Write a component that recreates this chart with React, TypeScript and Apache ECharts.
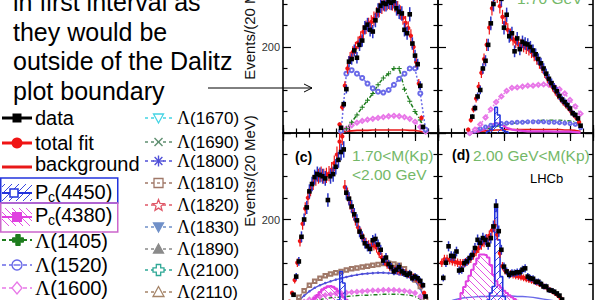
import React, { useEffect, useRef } from "react";
import * as echarts from "echarts";

// ---------- binning / axes ----------
const BIN = 0.02; // 20 MeV bins
const STEP = 0.04; // sampling step for component curves
const X_MIN = 4.0;
const X_MAX = 5.174;
const Y_MAX = 400;

// ---------- top-left panel ----------
const tlDataStart = 4.44;
const tlData = [12, 67, 102, 166, 172, 192, 175, 205, 215, 245, 252, 240, 236, 262, 285, 296, 302, 300, 306, 303, 307, 290, 282, 278, 240, 232, 276, 208, 180, 160, 110, 14];
const tlFitStart = 4.44;
const tlFit = [20, 60, 110, 150, 175, 188, 198, 210, 222, 235, 246, 252, 258, 266, 276, 286, 294, 300, 303, 304, 302, 298, 290, 280, 268, 256, 244, 226, 200, 165, 115, 35];
const tlCompStart = 4.44;
const tlL1520 = [5, 138, 146, 138, 128, 115, 104, 96, 94, 100, 112, 126, 138, 150, 150, 92, 8];
const tlL1405 = [2, 10, 25, 42, 60, 76, 92, 112, 128, 138, 150, 150, 102, 74, 50, 30, 6];
const tlL1600 = [2, 10, 18, 24, 28, 31, 33, 35, 37, 39, 40, 39, 37, 33, 26, 14, 3];
const tlBkg = [2, 4, 5, 6, 6, 6, 7, 7, 7, 7, 7, 7, 7, 6, 6, 4, 1];

// ---------- top-right panel ----------
const trDataStart = 4.26;
const trData = [38, 58, 85, 100, 150, 168, 205, 255, 300, 335, 345, 312, 245, 275, 225, 232, 190, 220, 195, 212, 208, 206, 200, 192, 183, 172, 162, 150, 138, 126, 116, 106, 97, 86, 78, 72, 65, 57, 46, 42, 34, 17];
const trFitStart = 4.24;
const trFit = [8, 30, 55, 80, 108, 140, 172, 205, 245, 290, 325, 320, 295, 270, 255, 240, 228, 218, 212, 207, 205, 202, 198, 194, 188, 180, 172, 162, 152, 140, 128, 117, 107, 97, 88, 80, 72, 65, 58, 50, 42, 35, 25];
const trCompStart = 4.24;
const trL1600 = [0, 8, 20, 36, 55, 72, 85, 98, 105, 106, 108, 110, 110, 112, 113, 112, 108, 102, 92, 77, 62, 45];
const trL1520 = [0, 5, 10, 14, 18, 20, 22, 23, 24, 25, 25, 26, 26, 26, 26, 25, 25, 24, 23, 22, 20, 12];
const trL1405 = [0, 3, 6, 9, 12, 15, 18, 20, 22, 24, 25, 27, 28, 29, 30, 30, 30, 30, 29, 28, 26, 15];
const trBkg = [0, 2, 4, 5, 6, 7, 7, 8, 8, 8, 8, 8, 8, 8, 8, 8, 8, 8, 7, 7, 6, 4];
const trPc4380 = [0, 2, 5, 10, 18, 23, 20, 12, 8, 6, 5, 4, 4, 4, 4, 4, 3, 3, 3, 3, 2, 1];
const trPc4450Start = 4.38;
const trPc4450 = [4, 8, 15, 60, 42, 12, 5, 3];

// ---------- (c) bottom-left panel ----------
const cDataStart = 4.08;
const cData = [26, 68, 103, 160, 200, 228, 265, 282, 298, 305, 303, 300, 295, 245, 300, 305, 322, 338, 356, 362, 262, 248, 230, 212, 198, 172, 160, 145, 138, 132, 152, 155, 142, 130, 105, 112, 97, 90, 80, 84, 90, 80, 76, 72, 75, 64, 68, 64, 58, 48, 22];
const cFitStart = 4.06;
const cFit = [10, 30, 60, 100, 150, 190, 225, 250, 270, 285, 295, 300, 305, 300, 302, 306, 315, 330, 350, 380, 392, 275, 258, 238, 218, 200, 182, 168, 155, 146, 140, 140, 140, 135, 122, 112, 104, 96, 90, 86, 84, 82, 80, 78, 76, 73, 70, 67, 63, 58, 48, 30];
const cCompStart = 4.08;
const cL1810 = [2, 20, 35, 48, 57, 64, 70, 74, 77, 80, 83, 86, 88, 90, 92, 94, 96, 98, 99, 97, 94, 86, 72, 60, 45, 15];
const cL1800 = [1, 12, 24, 34, 42, 48, 53, 57, 61, 64, 67, 70, 72, 74, 75, 76, 77, 77, 76, 75, 73, 70, 66, 58, 40, 12];
const cL1600 = [0, 5, 10, 15, 19, 22, 25, 27, 29, 30, 31, 32, 33, 34, 35, 36, 36, 37, 37, 37, 36, 35, 33, 30, 22, 6];
const cL1405 = [0, 3, 7, 10, 13, 15, 17, 19, 20, 21, 22, 23, 24, 25, 25, 26, 26, 27, 27, 27, 27, 26, 25, 22, 16, 4];
const cPc4380Start = 4.18;
const cPc4380 = [4, 7, 12, 18, 25, 32, 38, 42, 45, 46, 44, 40, 34, 27, 20, 14, 9, 6];
const cPc4450Start = 4.38;
const cPc4450 = [5, 8, 14, 80, 53, 10, 5];

// ---------- (d) bottom-right panel ----------
const dDataStart = 4.04;
const dData = [65, 100, 138, 116, 115, 126, 82, 84, 99, 103, 111, 118, 134, 153, 146, 157, 153, 142, 157, 184, 232, 173, 130, 91, 80, 72, 76, 76, 78, 78, 84, 87, 68, 64, 63, 56, 56, 51, 45, 45, 37, 36, 33, 29, 24, 15];
const dFitStart = 4.04;
const dFit = [100, 108, 108, 106, 104, 102, 100, 99, 99, 101, 105, 110, 118, 126, 134, 142, 148, 154, 162, 175, 186, 165, 122, 92, 82, 77, 74, 72, 70, 69, 67, 65, 63, 61, 59, 57, 54, 51, 48, 45, 41, 37, 33, 29, 24, 18];
const dPc4380Start = 4.16;
const dPc4380 = [14, 30, 44, 57, 70, 84, 97, 110, 119, 119, 118, 112, 95, 72, 58, 48, 42, 35, 30, 25, 20, 16, 12, 8, 5];
const dPc4450Start = 4.38;
const dPc4450 = [14, 30, 45, 228, 153, 68, 22, 10];
const dCompStart = 4.04;
const dLband = [5, 10, 14, 17, 19, 20, 21, 22, 22, 23, 23, 23, 23, 23, 22, 22, 21, 20, 18, 16, 14, 12, 10];

// ---------- text ----------
const noteLines = ["in first interval as", "they would be", "outside of the Dalitz", "plot boundary"];
const yTitle = "Events/(20 MeV)";
const legendLeft = ["data", "total fit", "background", "P|c|(4450)", "P|c|(4380)", "Λ(1405)", "Λ(1520)", "Λ(1600)"];
const legendRight = ["Λ(1670)", "Λ(1690)", "Λ(1800)", "Λ(1810)", "Λ(1820)", "Λ(1830)", "Λ(1890)", "Λ(2100)", "Λ(2110)"];

// ---------- colours ----------
const C_ERR = "#2a34c6";
const C_FIT = "#f01414";
const C_BKG = "#e81818";
const C_PC4450 = "#2233dd";
const C_PC4380 = "#e040e0";
const C_L1405 = "#1e7d1e";
const C_L1520 = "#6a6ae8";
const C_L1600 = "#e878e8";
const C_L1670 = "#44d4e4";
const C_L1690 = "#5f8f70";
const C_L1800 = "#5050d8";
const C_L1810 = "#a07868";
const C_L1820 = "#e05868";
const C_L1830 = "#7090c8";
const C_L1890 = "#8a8a8a";
const C_L2100 = "#2fa896";
const C_L2110 = "#a58468";
const C_GREEN = "#74b868";
const FONT = "Liberation Sans";

const PLUS = "path://M4 0h2v4h4v2h-4v4h-2v-4h-4v-2h4z";

function pairs(start: number, step: number, vals: number[]) {
  return vals.map((v, i) => [Math.round((start + i * step) * 1000) / 1000, v]);
}

function hatch(color: string, dir: number) {
  const s = 7;
  const c = document.createElement("canvas");
  c.width = s;
  c.height = s;
  const g = c.getContext("2d")!;
  g.strokeStyle = color;
  g.lineWidth = 0.9;
  g.beginPath();
  if (dir > 0) {
    g.moveTo(0, s); g.lineTo(s, 0);
    g.moveTo(-s / 2, s / 2); g.lineTo(s / 2, -s / 2);
    g.moveTo(s / 2, s * 1.5); g.lineTo(s * 1.5, s / 2);
  } else {
    g.moveTo(0, 0); g.lineTo(s, s);
    g.moveTo(-s / 2, s / 2); g.lineTo(s / 2, s * 1.5);
    g.moveTo(s / 2, -s / 2); g.lineTo(s * 1.5, s / 2);
  }
  g.stroke();
  return { image: c, repeat: "repeat" };
}

function dataSeries(gi: number, start: number, vals: number[]) {
  return {
    type: "custom",
    xAxisIndex: gi * 2,
    yAxisIndex: gi * 2,
    z: 6,
    clip: true,
    silent: true,
    data: pairs(start, BIN, vals),
    renderItem: (_p: any, api: any) => {
      const x = api.value(0);
      const y = api.value(1);
      const e = Math.sqrt(y);
      const c = api.coord([x, y]);
      const hi = api.coord([x, y + e]);
      const lo = api.coord([x, Math.max(0, y - e)]);
      return {
        type: "group",
        children: [
          { type: "line", shape: { x1: c[0], y1: hi[1], x2: c[0], y2: lo[1] }, style: { stroke: C_ERR, lineWidth: 1.5 } },
          { type: "rect", shape: { x: c[0] - 2.3, y: c[1] - 2.3, width: 4.6, height: 4.6 }, style: { fill: "#000" } },
        ],
      };
    },
  };
}

function fitSeries(gi: number, start: number, vals: number[]) {
  return {
    type: "custom",
    xAxisIndex: gi * 2,
    yAxisIndex: gi * 2,
    z: 5,
    clip: true,
    silent: true,
    data: pairs(start, BIN, vals),
    renderItem: (_p: any, api: any) => {
      const x = api.value(0);
      const y = api.value(1);
      const e = Math.sqrt(y);
      const c = api.coord([x, y]);
      const hi = api.coord([x, y + e]);
      const lo = api.coord([x, Math.max(0, y - e)]);
      const cx = c[0] - 1.5;
      return {
        type: "group",
        children: [
          { type: "line", shape: { x1: cx, y1: hi[1], x2: cx, y2: lo[1] }, style: { stroke: C_FIT, lineWidth: 1.2 } },
          { type: "circle", shape: { cx, cy: c[1], r: 2.2 }, style: { fill: C_FIT } },
        ],
      };
    },
  };
}

function compSeries(gi: number, start: number, vals: number[], color: string, dash: any, symbol: string, width = 1.4, size = 3.5) {
  return {
    type: "line",
    xAxisIndex: gi * 2,
    yAxisIndex: gi * 2,
    z: 3,
    silent: true,
    clip: true,
    data: pairs(start, STEP, vals),
    symbol,
    symbolSize: size,
    showSymbol: symbol !== "none",
    lineStyle: { color, width, type: dash },
    itemStyle: { color },
  };
}

function histSeries(gi: number, start: number, vals: number[], color: string, fill: any, width = 1.5) {
  const d = [[Math.round((start - BIN) * 1000) / 1000, 0], ...pairs(start, BIN, vals), [Math.round((start + vals.length * BIN) * 1000) / 1000, 0]];
  const s: any = {
    type: "line",
    step: "middle",
    xAxisIndex: gi * 2,
    yAxisIndex: gi * 2,
    z: 4,
    silent: true,
    clip: true,
    data: d,
    symbol: "none",
    lineStyle: { color, width },
  };
  if (fill) s.areaStyle = { color: fill, opacity: 1 };
  return s;
}

function xAxes(gi: number, pos: string) {
  const tickStyle = { color: "#000", width: 1.2 };
  return [
    {
      type: "value", gridIndex: gi, position: pos, min: X_MIN, max: X_MAX, interval: 0.5,
      axisLine: { show: true, onZero: false, lineStyle: { color: "#000", width: 1.6 } },
      axisTick: { show: true, inside: true, length: 8, lineStyle: tickStyle },
      axisLabel: { show: false }, splitLine: { show: false },
    },
    {
      type: "value", gridIndex: gi, position: pos, min: X_MIN, max: X_MAX, interval: 0.1,
      axisLine: { show: false, onZero: false },
      axisTick: { show: true, inside: true, length: 4.5, lineStyle: tickStyle },
      axisLabel: { show: false }, splitLine: { show: false },
    },
  ];
}

function yAxes(gi: number, labels: boolean) {
  const tickStyle = { color: "#000", width: 1.2 };
  const base = {
    type: "value", gridIndex: gi, min: 0, max: Y_MAX, interval: 200,
    axisLine: { show: true, onZero: false, lineStyle: { color: "#000", width: 1.6 } },
    axisTick: { show: true, inside: true, length: 8, lineStyle: tickStyle },
    minorTick: { show: true, splitNumber: 4, length: 4.5, lineStyle: tickStyle },
    splitLine: { show: false }, minorSplitLine: { show: false },
  };
  return [
    {
      ...base, position: "left",
      axisLabel: { show: labels, formatter: (v: number) => (v === 200 ? "200" : ""), fontSize: 11, color: "#333", margin: 3, fontFamily: FONT },
    },
    { ...base, position: "right", axisLabel: { show: false } },
  ];
}

function txt(x: number, y: number, text: string, fontSize: number, extra: any = {}) {
  return {
    type: "text", x, y, silent: true, z: 10,
    style: {
      text, fontSize, fontFamily: FONT, fill: "#000",
      textAlign: "left", align: "left", textVerticalAlign: "middle", verticalAlign: "middle",
      ...extra,
    },
  };
}

function ln(x1: number, y1: number, x2: number, y2: number, stroke: string, lineWidth: number, dash?: number[]) {
  return { type: "line", silent: true, z: 10, shape: { x1, y1, x2, y2 }, style: { stroke, lineWidth, lineDash: dash } };
}

function poly(points: number[][], stroke: string, fill: string, lw = 1.3) {
  return { type: "polygon", silent: true, z: 11, shape: { points }, style: { stroke, fill, lineWidth: lw } };
}

function starPts(cx: number, cy: number, R: number, r: number) {
  const pts: number[][] = [];
  for (let i = 0; i < 10; i++) {
    const a = -Math.PI / 2 + (i * Math.PI) / 5;
    const rr = i % 2 ? r : R;
    pts.push([cx + rr * Math.cos(a), cy + rr * Math.sin(a)]);
  }
  return pts;
}

function crossPts(cx: number, cy: number, a: number, b: number) {
  return [[cx - b, cy - a], [cx + b, cy - a], [cx + b, cy - b], [cx + a, cy - b], [cx + a, cy + b], [cx + b, cy + b], [cx + b, cy + a], [cx - b, cy + a], [cx - b, cy + b], [cx - a, cy + b], [cx - a, cy - b], [cx - b, cy - b]];
}

export default function App() {
  const ref = useRef<HTMLDivElement>(null);
  useEffect(() => {
    const el = ref.current!;
    const chart = echarts.init(el, undefined, { renderer: "svg" });
    const blueHatch = hatch(C_PC4450, 1);
    const magHatch = hatch(C_PC4380, -1);

    const series: any[] = [
      // top-left
      compSeries(0, tlCompStart, tlBkg, C_BKG, "solid", "none", 1.6),
      compSeries(0, tlCompStart, tlL1600, C_L1600, [2, 2], "emptyDiamond", 1.4, 4),
      compSeries(0, tlCompStart, tlL1405, C_L1405, [4, 2, 1, 2], PLUS, 1.5, 5),
      compSeries(0, tlCompStart, tlL1520, C_L1520, [2, 2], "emptyCircle", 1.5, 4),
      fitSeries(0, tlFitStart, tlFit),
      dataSeries(0, tlDataStart, tlData),
      // top-right
      compSeries(1, trCompStart, trBkg, C_BKG, "solid", "none", 1.6),
      compSeries(1, trCompStart, trL1405, C_L1405, [4, 2, 1, 2], "none", 1.4),
      compSeries(1, trCompStart, trL1520, C_L1520, [2, 2], "emptyCircle", 1.4, 3),
      compSeries(1, trCompStart, trPc4380, C_PC4380, "solid", "none", 2.2),
      histSeries(1, trPc4450Start, trPc4450, C_PC4450, blueHatch, 1.5),
      compSeries(1, trCompStart, trL1600, C_L1600, [2, 2], "emptyDiamond", 1.4, 4),
      fitSeries(1, trFitStart, trFit),
      dataSeries(1, trDataStart, trData),
      // (c)
      compSeries(2, cCompStart, cL1405, C_L1405, [4, 2, 1, 2], "none", 1.4),
      compSeries(2, cCompStart, cL1600, C_L1600, [2, 2], "emptyDiamond", 1.4, 3.5),
      histSeries(2, cPc4380Start, cPc4380, C_PC4380, magHatch, 2.4),
      histSeries(2, cPc4450Start, cPc4450, C_PC4450, blueHatch, 1.5),
      compSeries(2, cCompStart, cL1800, C_L1800, "solid", "circle", 1.4, 2.5),
      compSeries(2, cCompStart, cL1810, C_L1810, [2, 2], "emptyRect", 1.4, 3.5),
      fitSeries(2, cFitStart, cFit),
      dataSeries(2, cDataStart, cData),
      // (d)
      compSeries(3, dCompStart, dLband, C_L1520, "solid", "none", 1.4),
      histSeries(3, dPc4380Start, dPc4380, C_PC4380, magHatch, 2),
      histSeries(3, dPc4450Start, dPc4450, C_PC4450, blueHatch, 1.6),
      fitSeries(3, dFitStart, dFit),
      dataSeries(3, dDataStart, dData),
    ];

    // ---------- legend and notes ----------
    const g: any[] = [];
    noteLines.forEach((t, i) => g.push(txt(13, 2.3 + i * 29.5, t, 25)));

    // y titles
    [24, 171].forEach((y) =>
      g.push({
        type: "text", x: 249, y, rotation: Math.PI / 2, silent: true, z: 10,
        style: { text: yTitle, fontSize: 15, fontFamily: FONT, fill: "#111", textAlign: "center", align: "center", textVerticalAlign: "middle", verticalAlign: "middle" },
      })
    );

    // arrow
    g.push(ln(208, 88, 312, 88, "#000", 1));
    g.push({ type: "polyline", silent: true, z: 10, shape: { points: [[304, 84], [312, 88], [304, 92]] }, style: { stroke: "#000", lineWidth: 1, fill: null } });

    // left legend column
    const LX1 = 2, LX2 = 32, LC = 17, LT = 35;
    const lY = [118, 143, 167, 193, 217, 240, 265, 288];
    const lTY = [118, 143, 164, 192, 215, 241, 265, 288];
    g.push(ln(LX1, lY[0], LX2, lY[0], "#000", 3));
    g.push({ type: "rect", silent: true, z: 11, shape: { x: LC - 4.5, y: lY[0] - 4.5, width: 9, height: 9 }, style: { fill: "#000" } });
    g.push(ln(LX1, lY[1], LX2, lY[1], C_FIT, 3));
    g.push({ type: "circle", silent: true, z: 11, shape: { cx: LC, cy: lY[1], r: 5.5 }, style: { fill: C_FIT } });
    g.push(ln(LX1, lY[2], LX2, lY[2], C_BKG, 3));
    g.push({ type: "rect", silent: true, z: 9, shape: { x: 2, y: 184, width: 30, height: 17 }, style: { fill: blueHatch } });
    g.push(ln(LX1, lY[3], LX2, lY[3], C_PC4450, 2));
    g.push({ type: "rect", silent: true, z: 11, shape: { x: 10, y: lY[3] - 4, width: 8, height: 8 }, style: { stroke: C_PC4450, lineWidth: 1.5, fill: "#fff" } });
    g.push({ type: "rect", silent: true, z: 12, shape: { x: 0.75, y: 178, width: 117, height: 25 }, style: { stroke: C_PC4450, lineWidth: 1.5, fill: null } });
    g.push({ type: "rect", silent: true, z: 9, shape: { x: 2, y: 208, width: 30, height: 18 }, style: { fill: magHatch } });
    g.push(ln(LX1, lY[4], LX2, lY[4], C_PC4380, 2));
    g.push({ type: "rect", silent: true, z: 11, shape: { x: LC - 5, y: lY[4] - 5, width: 10, height: 10 }, style: { fill: C_PC4380 } });
    g.push({ type: "rect", silent: true, z: 12, shape: { x: 0.75, y: 203, width: 117, height: 29 }, style: { stroke: "#cc66cc", lineWidth: 1.5, fill: null } });
    g.push(ln(LX1, lY[5], LX2, lY[5], C_L1405, 2, [4, 3]));
    g.push(poly(crossPts(18, lY[5], 5.5, 2.2), C_L1405, C_L1405, 1));
    g.push(ln(LX1, lY[6], LX2, lY[6], C_L1520, 1.6, [4, 3]));
    g.push({ type: "circle", silent: true, z: 11, shape: { cx: LC, cy: lY[6], r: 5 }, style: { stroke: C_L1520, lineWidth: 1.4, fill: "#fff" } });
    g.push({ ...ln(LC - 3.5, lY[6], LC + 3.5, lY[6], C_L1520, 1.4), z: 12 });
    g.push(ln(LX1, lY[7], LX2, lY[7], C_L1600, 1.6, [4, 3]));
    g.push(poly([[LC, lY[7] - 6], [LC + 5, lY[7]], [LC, lY[7] + 6], [LC - 5, lY[7]]], C_L1600, "#fff"));

    legendLeft.forEach((t, i) => {
      if (t.indexOf("|") >= 0) {
        const [p, s, r] = t.split("|");
        g.push(txt(LT, lTY[i], p, 20));
        g.push(txt(LT + 13, lTY[i] + 5, s, 14));
        g.push(txt(LT + 19.5, lTY[i], r, 20));
      } else if (t.startsWith("Λ")) {
        g.push(txt(LT, lTY[i], "{l|Λ}" + t.slice(1), 20, { rich: { l: { fontFamily: "Liberation Serif", fontSize: 21 } } }));
      } else {
        g.push(txt(LT, lTY[i], t, 20));
      }
    });

    // right legend column
    const RX1 = 145, RX2 = 172, RC = 158.5, RT = 177;
    const rY = [118, 142, 161, 183, 205, 227, 249, 270, 292];
    const rColors = [C_L1670, C_L1690, C_L1800, C_L1810, C_L1820, C_L1830, C_L1890, C_L2100, C_L2110];
    rY.forEach((y, i) => g.push(ln(RX1, y, RX2, y, rColors[i], 1.6, [3, 3])));
    g.push(poly([[RC - 5, rY[0] - 4], [RC + 5, rY[0] - 4], [RC, rY[0] + 5]], C_L1670, "#fff"));
    g.push({ ...ln(RC - 4, rY[1] - 4, RC + 4, rY[1] + 4, C_L1690, 1.4), z: 11 });
    g.push({ ...ln(RC - 4, rY[1] + 4, RC + 4, rY[1] - 4, C_L1690, 1.4), z: 11 });
    [0, 45, 90, 135].forEach((deg) => {
      const a = (deg * Math.PI) / 180;
      g.push({ ...ln(RC - 5.5 * Math.cos(a), rY[2] - 5.5 * Math.sin(a), RC + 5.5 * Math.cos(a), rY[2] + 5.5 * Math.sin(a), C_L1800, 1.4), z: 11 });
    });
    g.push({ type: "rect", silent: true, z: 11, shape: { x: RC - 4.5, y: rY[3] - 4.5, width: 9, height: 9 }, style: { stroke: C_L1810, lineWidth: 1.3, fill: "#fff" } });
    g.push({ ...ln(RC - 1.5, rY[3], RC + 1.5, rY[3], C_L1810, 1.3), z: 12 });
    g.push(poly(starPts(RC, rY[4] + 0.5, 6, 2.6), C_L1820, "#fff"));
    g.push(poly([[RC - 5, rY[5] - 4], [RC + 5, rY[5] - 4], [RC, rY[5] + 5]], C_L1830, C_L1830));
    g.push(poly([[RC - 5, rY[6] + 4], [RC + 5, rY[6] + 4], [RC, rY[6] - 5]], C_L1890, C_L1890));
    g.push(poly(crossPts(RC, rY[7], 5.5, 2.2), C_L2100, "#fff"));
    g.push(poly([[RC - 5.5, rY[8] + 4.5], [RC + 5.5, rY[8] + 4.5], [RC, rY[8] - 5.5]], C_L2110, "#fff"));
    legendRight.forEach((t, i) =>
      g.push(txt(RT, rY[i], "{l|Λ}" + t.slice(1), 17, { rich: { l: { fontFamily: "Liberation Serif", fontSize: 18 } } }))
    );

    // panel labels
    g.push(txt(295, 157, "(c)", 14, { fontWeight: "bold" }));
    g.push(txt(352, 155, "1.70<M(Kp)", 15.5, { fill: C_GREEN }));
    g.push(txt(352, 174, "<2.00 GeV", 15.5, { fill: C_GREEN }));
    g.push(txt(452, 155, "(d)", 14, { fontWeight: "bold" }));
    g.push(txt(473, 155, "2.00 GeV<M(Kp)", 15.5, { fill: C_GREEN }));
    g.push(txt(530, 178, "LHCb", 13));
    g.push(txt(517, -2, "1.70 GeV", 15.5, { fill: C_GREEN }));

    const gridBase = { outerBoundsMode: "none", containLabel: false };
    const option: any = {
      animation: false,
      backgroundColor: "#fff",
      textStyle: { fontFamily: FONT },
      grid: [
        { ...gridBase, left: 283, top: -39, width: 155, height: 172 },
        { ...gridBase, left: 438, top: -39, width: 155, height: 172 },
        { ...gridBase, left: 283, top: 133, width: 155, height: 173 },
        { ...gridBase, left: 438, top: 133, width: 155, height: 173 },
      ],
      xAxis: [...xAxes(0, "bottom"), ...xAxes(1, "bottom"), ...xAxes(2, "top"), ...xAxes(3, "top")],
      yAxis: [...yAxes(0, true), ...yAxes(1, false), ...yAxes(2, true), ...yAxes(3, false)],
      series,
      graphic: { elements: g },
    };
    chart.setOption(option);
    return () => chart.dispose();
  }, []);
  return <div ref={ref} style={{ position: "fixed", left: 0, top: 0, width: 600, height: 300, background: "#fff" }} />;
}
